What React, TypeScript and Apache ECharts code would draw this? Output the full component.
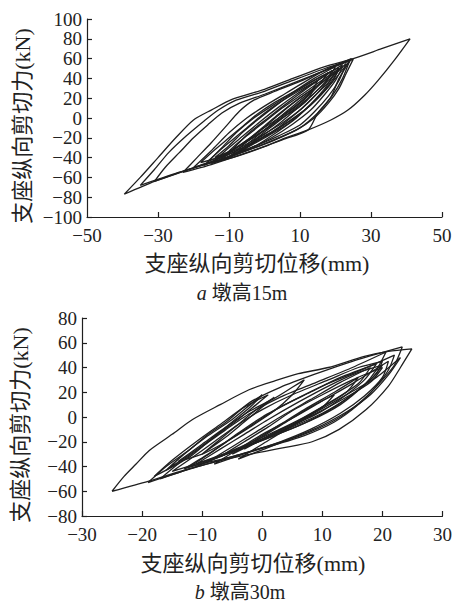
import React, { useEffect, useRef } from "react";
import * as echarts from "echarts";

// ---------- Chart a (墩高15m) ----------
const xTicksA = [-50, -30, -10, 10, 30, 50];
const xTickMarksA = [-30, -10, 10, 30, 50];
const loopsA: number[][][] = [
  [[-39.5,-77],[-35,-60],[-30,-40],[-25,-20],[-20,-2],[-15,8],[-9,19],[0,29],[8,40],[17,52],[25,60],[33,70],[41,80],[36.7,59],[32,38],[28.2,23],[23.5,8],[18.7,-2],[12.3,-12],[4.6,-22],[0,-29],[-9,-40],[-19,-49],[-23,-54],[-31,-64],[-39.5,-77]],
  [[-35,-68],[-31,-52],[-27,-35],[-22,-18],[-17,-3],[-13,8],[-8,18],[0,27],[8,38],[17,50],[24,58],[22,40],[19,22],[15,5],[10,-10],[3,-22],[-5,-33],[-15,-45],[-25,-56],[-35,-68]],
  [[-31,-64],[-28,-50],[-24,-35],[-20,-20],[-16,-7],[-12,5],[-7,15],[0,24],[10,38],[20,52],[25,59.5],[23,45],[21,30],[18,15],[14,0],[9,-12],[2,-23],[-8,-37],[-18,-48],[-31,-64]],
  [[-23,-55],[-19,-40],[-15,-25],[-11,-9],[-7,7],[-3,18],[3,27],[10,37],[18,50],[24.5,60],[21,40],[18.7,21],[15,5],[12.3,-12],[5,-22],[-5,-35],[-15,-47],[-23,-55]],
  [[-20,-50],[-15,-33],[-10,-15],[-5,0],[0,12],[6,25],[12,38],[18,50],[24,58],[20,40],[16,24],[12,10],[7,-3],[2,-15],[-5,-28],[-12,-40],[-20,-50]],
  [[-17,-48],[-12,-30],[-8,-15],[-3,0],[2,12],[8,26],[14,40],[20,52],[18,40],[14,25],[10,12],[5,0],[0,-12],[-6,-26],[-11,-37],[-17,-48]],
  [[-15,-46],[-11,-33],[-6,-18],[-1,-3],[4,11],[9,24],[15,38],[22,54],[19,38],[16,24],[12,10],[7,-5],[1,-18],[-5,-30],[-10,-40],[-15,-46]],
  [[-13,-44],[-9,-30],[-5,-18],[0,-4],[5,10],[11,25],[17,40],[21,50],[19,36],[15,20],[10,4],[5,-8],[0,-18],[-6,-32],[-13,-44]],
  [[-12,-42],[-8,-28],[-4,-14],[1,0],[6,14],[12,30],[19,48],[17,34],[13,18],[8,2],[3,-12],[-3,-25],[-8,-35],[-12,-42]],
  [[-10,-40],[-7,-30],[-3,-18],[2,-3],[7,12],[13,28],[20,46],[17,30],[13,14],[9,0],[4,-13],[-2,-27],[-10,-40]],
  [[-8,-36],[-4,-24],[0,-12],[5,3],[10,18],[15,32],[22,52],[20,38],[17,24],[13,8],[8,-6],[2,-20],[-3,-29],[-8,-36]],
  [[-14,-40],[-10,-28],[-6,-14],[-2,-2],[3,12],[8,25],[14,38],[18,46],[15,32],[11,18],[6,4],[1,-10],[-5,-24],[-10,-34],[-14,-40]],
  [[-6,-33],[-2,-20],[3,-6],[8,8],[13,22],[18,38],[23,55],[21,38],[18,22],[14,6],[10,-7],[4,-18],[-1,-26],[-6,-33]],
  [[-18,-45],[-14,-32],[-10,-20],[-6,-8],[-2,4],[3,16],[9,28],[16,42],[21,51],[18,36],[14,22],[10,8],[5,-5],[-1,-18],[-8,-32],[-13,-40],[-18,-45]],
  [[-16,-44],[-13,-34],[-9,-22],[-5,-10],[-1,2],[4,15],[10,28],[15,38],[13,26],[9,13],[4,0],[-1,-12],[-6,-25],[-11,-36],[-16,-44]],
  [[-11,-38],[-8,-30],[-4,-20],[0,-8],[4,4],[9,18],[14,30],[12,18],[8,6],[4,-6],[-1,-19],[-6,-30],[-11,-38]],
];

// ---------- Chart b (墩高30m) ----------
const loopsB: number[][][] = [
  [[-25,-60],[-23,-48],[-21,-38],[-18.8,-27],[-15,-14],[-11.6,-2],[-7,10],[-2.2,22],[2,29],[6,35],[11,40],[17,49],[21,53],[24.9,55],[23,40],[21,25],[17.3,6],[12.8,-10],[8.3,-20],[3.4,-25],[-5,-33],[-13,-43],[-19,-52],[-25,-60]],
  [[-19,-53],[-16,-40],[-12,-26],[-9,-14],[-6,-4],[-2,12],[3,24],[9,35],[15,45],[23.3,56.6],[22,42],[20,30],[17,15],[13,0],[8,-12],[2,-22],[-5,-32],[-12,-42],[-19,-53]],
  [[-17,-50],[-14,-38],[-10,-24],[-6,-10],[-2,3],[3,16],[9,28],[15,40],[20.6,52.5],[19,38],[17,26],[13,10],[8,-3],[2,-15],[-5,-28],[-11,-40],[-17,-50]],
  [[-15,-44],[-12,-34],[-8,-20],[-4,-6],[0,6],[5,18],[11,30],[16,40],[20,45],[19,35],[16,22],[12,8],[7,-5],[1,-17],[-6,-30],[-15,-44]],
  [[-13,-42],[-9,-30],[-5,-17],[-1,-4],[3,8],[8,20],[13,32],[19,43],[17,30],[14,18],[10,5],[5,-7],[-1,-20],[-7,-32],[-13,-42]],
  [[-11,-38],[-7,-26],[-3,-14],[1,-2],[6,12],[11,25],[16,36],[20,42],[18,30],[15,18],[10,3],[4,-10],[-2,-22],[-11,-38]],
  [[-9,-36],[-5,-24],[-1,-12],[3,0],[8,14],[13,28],[18,40],[16,27],[12,14],[7,0],[2,-12],[-4,-25],[-9,-36]],
  [[-7,-32],[-3,-20],[1,-8],[5,5],[10,18],[15,30],[20,40],[18,28],[14,16],[9,3],[4,-8],[-1,-20],[-7,-32]],
  [[-14,-36],[-10,-22],[-6,-8],[-2,5],[2,15],[5,24],[7,30],[5,18],[2,5],[-2,-8],[-6,-20],[-10,-30],[-14,-36]],
  [[-16,-43],[-13,-30],[-9,-15],[-5,-2],[-2,10],[0,18],[-2,8],[-5,-4],[-8,-16],[-12,-30],[-16,-43]],
  [[-5,-30],[-1,-18],[3,-6],[7,6],[12,20],[16,32],[14,20],[10,8],[6,-4],[1,-16],[-5,-30]],
  [[-3,-26],[0,-16],[4,-4],[8,8],[12,18],[10,8],[6,-3],[2,-13],[-3,-26]],
  [[-12,-40],[-8,-27],[-4,-13],[0,0],[5,13],[10,25],[16,37],[22,50],[21,38],[19,25],[16,10],[12,-4],[7,-15],[1,-24],[-5,-32],[-12,-40]],
  [[-8,-38],[-4,-26],[0,-14],[5,-1],[10,13],[15,27],[21,45],[20,32],[17,17],[13,3],[8,-10],[3,-20],[-2,-28],[-8,-38]],
  [[-4,-34],[0,-22],[4,-10],[9,4],[14,18],[19,32],[23,48],[21,34],[18,18],[14,4],[9,-9],[4,-19],[-4,-34]],
  [[-18,-48],[-15,-35],[-11,-20],[-7,-6],[-3,8],[1,18],[-1,10],[-4,-2],[-8,-16],[-12,-32],[-18,-48]],
  [[-10,-30],[-7,-18],[-4,-6],[-1,6],[2,16],[0,8],[-3,-4],[-6,-16],[-10,-30]],
];

const yTitle = "支座纵向剪切力(kN)";
const xTitle = "支座纵向剪切位移(mm)";
const captionA = ["a", " 墩高15m"];
const captionB = ["b", " 墩高30m"];

const FONT = "'Liberation Serif', 'Noto Sans CJK SC', serif";
const INK = "#1f1f1f";
const fmt = (v: number) => String(v).replace("-", "\u2212");

function axisBase() {
  return {
    axisLine: { show: true, onZero: false, lineStyle: { color: INK, width: 1.2 } },
    axisTick: { show: true, inside: true, length: 5, lineStyle: { color: INK, width: 1.2 } },
    splitLine: { show: false },
    axisLabel: { color: "#222", fontFamily: FONT, fontSize: 19, lineHeight: 18, formatter: fmt },
  };
}

export default function App() {
  const ref = useRef<HTMLDivElement>(null);
  useEffect(() => {
    if (!ref.current) return;
    const chart = echarts.init(ref.current, undefined, { renderer: "svg" });
    const mk = (loops: number[][][], idx: number) =>
      loops.map((d) => ({
        type: "line",
        xAxisIndex: idx,
        yAxisIndex: idx,
        data: d,
        showSymbol: false,
        smooth: 0.25,
        lineStyle: { color: INK, width: 1.3 },
        silent: true,
      }));
    const b = axisBase();
    const titleStyle = { fontFamily: FONT, fontSize: 22, fill: "#222", align: "center", verticalAlign: "middle" };
    const capStyle = (c: string[]) => ({
      text: "{i|" + c[0] + "}" + c[1],
      rich: { i: { fontStyle: "italic", fontFamily: FONT, fontSize: 20, fill: "#222" } },
      fontFamily: FONT, fontSize: 20, fill: "#222", align: "center", verticalAlign: "middle",
    });
    chart.setOption({
      animation: false,
      backgroundColor: "#fff",
      grid: [
        { left: 87, top: 19, width: 355, height: 198 },
        { left: 82, top: 318, width: 361, height: 198 },
      ],
      xAxis: [
        {
          ...b,
          gridIndex: 0,
          type: "value",
          min: -50,
          max: 50,
          axisTick: { ...b.axisTick, customValues: xTickMarksA },
          axisLabel: { ...b.axisLabel, margin: 9, customValues: xTicksA },
        },
        {
          ...b,
          gridIndex: 1,
          type: "value",
          min: -30,
          max: 30,
          interval: 10,
          axisLabel: { ...b.axisLabel, margin: 9 },
        },
      ],
      yAxis: [
        { ...b, gridIndex: 0, type: "value", min: -100, max: 100, interval: 20, axisLabel: { ...b.axisLabel, margin: 5 } },
        { ...b, gridIndex: 1, type: "value", min: -80, max: 80, interval: 20, axisLabel: { ...b.axisLabel, margin: 5 } },
      ],
      graphic: [
        { type: "text", x: 22, y: 126, rotation: Math.PI / 2, style: { text: yTitle, ...titleStyle } },
        { type: "text", x: 257, y: 263, style: { text: xTitle, ...titleStyle } },
        { type: "text", x: 242, y: 293, style: capStyle(captionA) },
        { type: "text", x: 20, y: 425, rotation: Math.PI / 2, style: { text: yTitle, ...titleStyle } },
        { type: "text", x: 253, y: 563, style: { text: xTitle, ...titleStyle } },
        { type: "text", x: 240, y: 592, style: capStyle(captionB) },
      ],
      series: [...mk(loopsA, 0), ...mk(loopsB, 1)],
    });
    return () => chart.dispose();
  }, []);
  return <div ref={ref} style={{ position: "absolute", left: 0, top: 0, width: 455, height: 604 }} />;
}
